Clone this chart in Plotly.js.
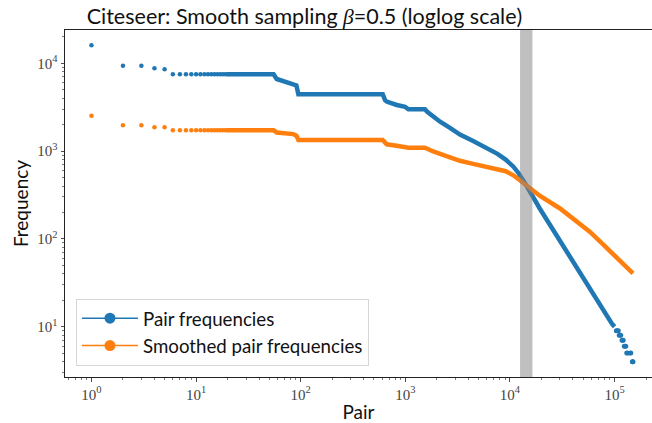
<!DOCTYPE html>
<html>
<head>
<meta charset="utf-8">
<script src="https://cdn.plot.ly/plotly-3.0.1.min.js"></script>
<style>html,body{margin:0;padding:0;background:#fff;}#chart{width:652px;height:423px;}</style>
</head>
<body>
<div id="chart"></div>
<script>
// ---- data (rank of pair -> frequency) ----
const dotRanks = [1,2,3,4,5,6,7,8,9,10,11,12,13,14,15,16,17,18,19,20];
const pairDotFreq = [16000,9400,9400,8780,8550,7500,7500,7500,7500,7500,7500,7500,7500,7500,7500,7500,7500,7500,7500,7500];
const smoothDotFreq = [2530,1970,1970,1870,1870,1730,1730,1730,1730,1730,1730,1730,1730,1730,1730,1730,1730,1730,1730,1730];

const pairCurveRank = [20,55,59,63,73,85,91,95,608,640,664,828,994,1070,1540,1620,1850,2150,2650,3330,4450,6000,7600,9100,10800,12100,13300,14300,19400,30100,58300,94000,100000];
const pairCurveFreq = [7500,7500,6620,6460,6170,5900,5600,4440,4440,3800,3660,3350,3200,2990,2990,2800,2450,2160,1850,1540,1300,1080,930,800,664,560,480,410,219,94,27.5,10.9,10];

const smoothCurveRank = [20,55,59,63,73,85,91,95,608,640,664,828,994,1070,1540,1620,1850,2150,2650,3330,4450,6000,7600,9100,10800,12100,13300,14300,19400,30100,41800,58300,81300,113000,150000];
const smoothCurveFreq = [1730,1730,1630,1620,1570,1560,1500,1336,1336,1240,1194,1150,1110,1094,1094,1060,990,930,850,775,715,665,630,590,530,480,440,405,308,222,164,120,82,56,40.5];

// tail of the pair frequencies: runs of equal integer frequency
const tailFreq  = [9,8,7,6,5,4];
const tailStart = [104000,111000,118000,124000,130900,148000];
const tailEnd   = [108500,114500,121000,128000,142900,150000];

const bandStart = 12500, bandEnd = 16400;

const xTickVals = [1,10,100,1000,10000,100000];
const xTickText = ['10<sup>0</sup>','10<sup>1</sup>','10<sup>2</sup>','10<sup>3</sup>','10<sup>4</sup>','10<sup>5</sup>'];
const yTickVals = [10,100,1000,10000];
const yTickText = ['10<sup>1</sup>','10<sup>2</sup>','10<sup>3</sup>','10<sup>4</sup>'];

const BLUE = '#1f77b4', ORANGE = '#ff7f0e';

function minorVals(lo, hi){
  const v=[];
  for(let e=lo;e<=hi;e++) for(let d=2;d<=9;d++) v.push(d*Math.pow(10,e));
  return v;
}

const tailX=[], tailY=[];
tailFreq.forEach((f,i)=>{ tailX.push(tailStart[i],tailEnd[i],null); tailY.push(f,f,null); });

const traces = [
  {x:dotRanks, y:pairDotFreq, mode:'markers', marker:{color:BLUE,size:4.5}, showlegend:false, hoverinfo:'skip'},
  {x:pairCurveRank, y:pairCurveFreq, mode:'lines', line:{color:BLUE,width:4.5}, showlegend:false, hoverinfo:'skip'},
  {x:tailX, y:tailY, mode:'lines+markers', line:{color:BLUE,width:4.5}, marker:{color:BLUE,size:5}, connectgaps:false, showlegend:false, hoverinfo:'skip'},
  {x:dotRanks, y:smoothDotFreq, mode:'markers', marker:{color:ORANGE,size:4.5}, showlegend:false, hoverinfo:'skip'},
  {x:smoothCurveRank, y:smoothCurveFreq, mode:'lines', line:{color:ORANGE,width:4.5}, showlegend:false, hoverinfo:'skip'},
  {x:[null], y:[null], mode:'lines+markers', name:'Pair frequencies', line:{color:BLUE,width:1.5}, marker:{color:BLUE,size:11}},
  {x:[null], y:[null], mode:'lines+markers', name:'Smoothed pair frequencies', line:{color:ORANGE,width:1.5}, marker:{color:ORANGE,size:11}}
];

const SANS = 'Lato, "Open Sans", sans-serif';
const SERIF = '"Liberation Serif", "DejaVu Serif", serif';

const layout = {
  width:652, height:423,
  margin:{l:65, r:0, t:30, b:46},
  paper_bgcolor:'#fff', plot_bgcolor:'#fff',
  title:{text:'Citeseer: Smooth sampling <span style="font-family:\'Liberation Serif\';font-style:italic">β</span>=0.5 (loglog scale)',
         font:{family:SANS, size:21.5, color:'#111'}, x:0.467, xref:'container', xanchor:'center', y:0.962, yref:'container', yanchor:'middle'},
  xaxis:{type:'log', range:[-0.253,5.358], showgrid:false, zeroline:false,
         showline:true, mirror:true, linecolor:'#222', linewidth:1,
         ticks:'outside', ticklen:3.5, tickwidth:0.8, tickcolor:'#222',
         tickmode:'array', tickvals:xTickVals, ticktext:xTickText,
         tickfont:{family:SERIF, size:15, color:'#444'},
         minor:{tickmode:'array', tickvals:minorVals(-1,5), ticks:'outside', ticklen:2, tickwidth:0.6, tickcolor:'#222', showgrid:false},
         title:{text:'Pair', font:{family:SANS, size:19, color:'#111'}, standoff:6}},
  yaxis:{type:'log', range:[0.427,4.379], showgrid:false, zeroline:false,
         showline:true, mirror:false, linecolor:'#222', linewidth:1,
         ticks:'outside', ticklen:3.5, tickwidth:0.8, tickcolor:'#222',
         tickmode:'array', tickvals:yTickVals, ticktext:yTickText,
         tickfont:{family:SERIF, size:15, color:'#444'},
         minor:{tickmode:'array', tickvals:minorVals(0,4), ticks:'outside', ticklen:2, tickwidth:0.6, tickcolor:'#222', showgrid:false},
         title:{text:'Frequency', font:{family:SANS, size:19, color:'#111'}, standoff:3}},
  shapes:[{type:'rect', xref:'x', yref:'paper', x0:bandStart, x1:bandEnd, y0:0, y1:1,
           fillcolor:'gray', opacity:0.5, line:{width:0}, layer:'above'}],
  legend:{x:0.0187, y:0.226, xanchor:'left', yanchor:'top',
          bgcolor:'rgba(255,255,255,0.8)', bordercolor:'#d6d6d6', borderwidth:1,
          font:{family:SANS, size:18.7, color:'#111'}, itemsizing:'trace', itemwidth:56},
  showlegend:true
};

Plotly.newPlot('chart', traces, layout, {displayModeBar:false, staticPlot:true});
</script>
</body>
</html>
